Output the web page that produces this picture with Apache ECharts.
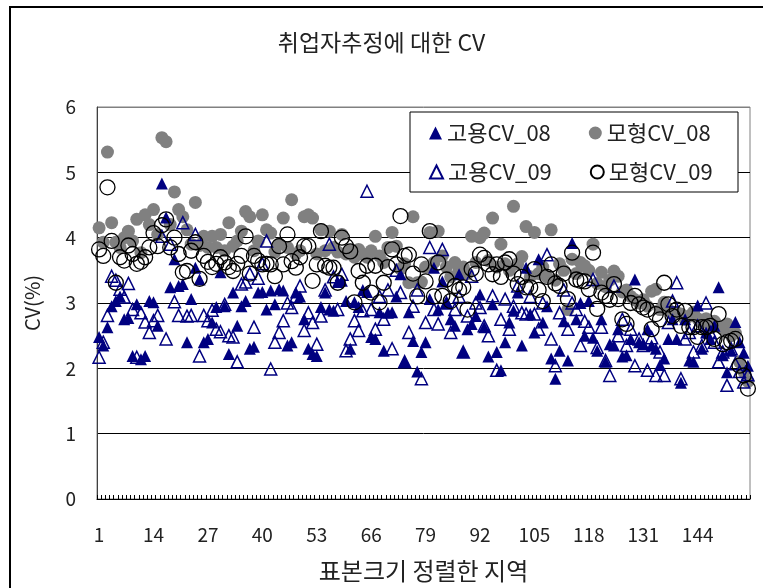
<!DOCTYPE html>
<html>
<head>
<meta charset="utf-8">
<title>취업자추정에 대한 CV</title>
<script src="https://cdn.jsdelivr.net/npm/echarts@6/dist/echarts.min.js"></script>
<style>
    html, body { margin: 0; padding: 0; background: #fff; }
    #chart { width: 763px; height: 588px; }
</style>
</head>
<body>
<div id="chart"></div>
<script>
// 지역 (표본크기 순)
var regionCount = 156;
var categories = [];
for (var k = 1; k <= regionCount; k++) {
    categories.push(String(k));
}
var yTicks = [0, 1, 2, 3, 4, 5, 6];

// 고용CV_08
var emp08 = [
    2.48, 2.35, 2.63, 2.95, 3.03, 3.10, 2.75, 2.77, 2.19, 2.98,
    2.14, 2.19, 3.03, 3.01, 2.65, 4.83, 4.31, 3.24, 3.67, 3.26,
    3.29, 2.40, 3.06, 3.54, 3.36, 2.40, 2.45, 2.70, 2.94, 3.47,
    2.95, 2.22, 3.16, 2.65, 2.95, 3.03, 2.30, 2.33, 3.16, 3.17,
    2.90, 3.19, 2.98, 3.21, 3.19, 2.35, 2.40, 3.16, 3.10, 2.75,
    2.30, 2.22, 2.19, 2.94, 3.16, 2.90, 2.88, 3.32, 3.34, 3.03,
    2.30, 3.01, 2.94, 3.20, 3.17, 2.48, 2.45, 2.86, 2.27, 2.85,
    2.86, 3.10, 3.44, 2.10, 2.86, 2.42, 1.95, 2.25, 2.40, 3.06,
    3.54, 2.90, 3.33, 3.00, 2.75, 2.65, 3.44, 2.25, 2.60, 2.68,
    2.80, 3.13, 2.63, 2.18, 2.98, 2.25, 1.97, 2.40, 2.70, 2.88,
    3.16, 2.35, 3.54, 2.83, 2.55, 3.67, 2.70, 2.95, 2.15, 1.84,
    2.27, 2.72, 2.12, 3.92, 2.75, 3.00, 2.50, 3.03, 2.47, 2.27,
    2.75, 2.10, 2.37, 2.35, 2.60, 2.18, 2.20, 2.45, 3.36, 2.40,
    2.37, 2.60, 2.35, 2.30, 2.05, 2.15, 2.45, 2.75, 2.45, 1.78,
    2.75, 2.12, 2.10, 2.96, 2.30, 2.55, 2.45, 2.65, 3.24, 2.20,
    1.94, 2.27, 2.71, 2.40, 2.24, 2.04
];
// 모형CV_08
var model08 = [
    4.15, 3.93, 5.31, 4.23, 3.93, 3.85, 4.00, 4.10, 3.95, 4.28,
    3.77, 4.35, 4.20, 4.43, 4.05, 5.53, 5.47, 4.20, 4.70, 4.43,
    4.32, 4.12, 3.90, 4.54, 3.88, 4.02, 3.85, 4.02, 3.85, 4.05,
    3.80, 4.23, 3.87, 3.95, 4.10, 4.40, 4.32, 3.80, 3.95, 4.35,
    4.12, 4.07, 3.78, 3.90, 4.30, 3.85, 4.58, 3.75, 3.80, 4.32,
    4.35, 4.30, 3.75, 4.12, 3.80, 4.10, 3.85, 3.78, 4.05, 3.75,
    3.80, 3.70, 3.82, 3.75, 3.70, 3.80, 4.02, 3.72, 3.62, 3.85,
    4.08, 3.87, 3.52, 3.60, 3.31, 4.32, 3.31, 3.32, 3.55, 4.08,
    3.62, 4.10, 3.72, 3.55, 3.40, 3.62, 3.50, 3.55, 3.45, 4.02,
    3.62, 4.00, 4.07, 3.65, 4.30, 3.55, 3.90, 3.60, 3.50, 4.48,
    3.60, 3.71, 4.17, 3.40, 4.08, 3.45, 3.55, 3.40, 4.12, 3.35,
    3.60, 3.50, 2.90, 3.67, 3.45, 3.62, 3.57, 3.50, 3.90, 3.30,
    3.47, 3.25, 3.35, 3.49, 3.41, 3.17, 3.20, 3.10, 3.05, 3.00,
    3.05, 2.95, 3.18, 3.21, 2.90, 3.01, 2.90, 2.86, 2.85, 2.83,
    2.75, 2.80, 2.86, 2.76, 2.70, 2.76, 2.68, 2.72, 2.65, 2.60,
    2.68, 2.50, 2.54, 2.10, 1.95, 1.80
];
// 고용CV_09
var emp09 = [
    2.17, 2.40, 2.81, 3.41, 3.35, 3.21, 3.09, 3.30, 2.90, 2.17,
    2.85, 2.71, 2.55, 2.73, 2.81, 4.02, 2.45, 3.90, 3.02, 2.81,
    4.23, 2.80, 2.81, 4.05, 2.19, 2.81, 2.73, 2.89, 2.60, 2.56,
    2.98, 2.50, 2.48, 2.10, 3.29, 3.32, 3.45, 2.63, 3.38, 3.60,
    3.95, 1.99, 2.40, 2.55, 2.73, 3.00, 2.93, 3.10, 3.26, 2.58,
    2.85, 2.70, 2.37, 2.80, 3.20, 3.90, 3.40, 2.90, 3.44, 2.27,
    2.45, 2.73, 2.58, 2.88, 4.71, 2.90, 2.60, 3.10, 2.75, 3.20,
    2.30, 3.50, 3.16, 2.10, 2.55, 2.95, 3.20, 1.84, 2.70, 3.85,
    2.90, 2.68, 3.82, 3.00, 2.55, 2.90, 3.10, 2.25, 2.80, 3.41,
    3.00, 2.93, 2.65, 2.50, 3.11, 1.97, 2.75, 3.06, 2.60, 2.95,
    3.26, 2.85, 2.83, 3.10, 2.83, 2.60, 3.00, 3.74, 2.45, 2.04,
    2.85, 3.20, 2.60, 3.00, 2.90, 2.35, 2.72, 2.63, 3.36, 2.32,
    2.63, 2.12, 1.89, 3.26, 2.50, 2.75, 2.35, 2.60, 2.04, 2.45,
    2.35, 1.97, 2.47, 1.89, 2.25, 1.89, 2.70, 3.03, 3.31, 1.84,
    2.45, 2.55, 2.25, 2.65, 2.35, 3.00, 2.55, 2.40, 2.10, 2.25,
    1.74, 2.30, 2.07, 1.95, 1.79, 1.90
];
// 모형CV_09
var model09 = [
    3.82, 3.72, 4.77, 3.95, 3.31, 3.70, 3.65, 3.88, 3.75, 3.60,
    3.63, 3.70, 3.85, 4.07, 3.87, 4.19, 4.28, 3.85, 4.00, 3.75,
    3.47, 3.49, 3.80, 3.93, 3.37, 3.72, 3.63, 3.55, 3.60, 3.70,
    3.62, 3.55, 3.49, 3.60, 3.72, 4.02, 3.45, 3.72, 3.65, 3.59,
    3.60, 3.59, 3.41, 3.87, 3.59, 4.05, 3.64, 3.54, 3.70, 3.87,
    3.87, 3.34, 3.59, 4.10, 3.57, 3.54, 3.54, 3.31, 4.00, 3.87,
    3.79, 3.01, 3.49, 3.31, 3.57, 3.16, 3.57, 3.01, 3.31, 3.55,
    3.82, 3.59, 4.33, 3.72, 3.74, 3.45, 3.10, 3.59, 3.33, 4.10,
    3.10, 3.62, 3.11, 3.36, 3.03, 3.26, 3.20, 3.24, 2.90, 3.52,
    3.45, 3.74, 3.69, 3.59, 3.44, 3.59, 3.40, 3.62, 3.67, 3.45,
    3.29, 3.40, 3.24, 3.24, 3.52, 3.20, 3.03, 3.40, 3.59, 3.30,
    3.26, 3.45, 3.06, 3.77, 3.36, 3.34, 3.33, 3.21, 3.77, 2.91,
    3.16, 3.11, 3.05, 3.29, 3.06, 2.75, 2.68, 3.00, 3.11, 2.98,
    2.93, 2.90, 2.60, 2.83, 2.75, 3.31, 2.98, 2.80, 2.90, 2.65,
    2.88, 2.63, 2.63, 2.48, 2.63, 2.63, 2.65, 2.45, 2.83, 2.37,
    2.40, 2.42, 2.45, 2.04, 1.89, 1.69
];

var navy = '#000080';
var font = "'Noto Sans CJK KR', 'Noto Sans', sans-serif";

var chart = echarts.init(document.getElementById('chart'));

var option = {
    backgroundColor: '#fff',
    animation: false,
    textStyle: { fontFamily: font },
    title: {
        text: '취업자추정에 대한 CV',
        left: 'center',
        top: 26,
        textStyle: { fontFamily: font, fontSize: 23, fontWeight: 'normal', color: '#222' }
    },
    legend: [{
        data: ['고용CV_08', '모형CV_08'],
        left: 424,
        top: 117,
        z: 20,
        itemWidth: 13,
        itemHeight: 13,
        itemGap: 38,
        textStyle: { fontFamily: font, fontSize: 22, color: '#222' }
    }, {
        data: ['고용CV_09', '모형CV_09'],
        left: 424,
        top: 156,
        z: 20,
        itemWidth: 13,
        itemHeight: 13,
        itemGap: 38,
        textStyle: { fontFamily: font, fontSize: 22, color: '#222' }
    }],
    grid: {
        left: 97,
        right: 13,
        top: 107,
        bottom: 70,
        show: true,
        borderColor: '#808080',
        borderWidth: 1
    },
    xAxis: {
        type: 'category',
        data: categories,
        boundaryGap: true,
        name: '표본크기 정렬한 지역',
        nameLocation: 'middle',
        nameGap: 60,
        nameTextStyle: { fontFamily: font, fontSize: 24, color: '#222' },
        axisLine: { lineStyle: { color: '#000', width: 1 } },
        axisTick: { show: true, inside: true, length: 4, interval: 0, lineStyle: { color: '#000' } },
        axisLabel: { interval: 12, margin: 26, fontSize: 19, color: '#222', fontFamily: font },
        splitLine: { show: false }
    },
    yAxis: {
        type: 'value',
        min: yTicks[0],
        max: yTicks[yTicks.length - 1],
        interval: 1,
        name: 'CV(%)',
        nameLocation: 'middle',
        nameGap: 55,
        nameTextStyle: { fontFamily: font, fontSize: 20, color: '#222' },
        axisLine: { show: true, lineStyle: { color: '#404040' } },
        axisTick: { show: false },
        axisLabel: { margin: 21, fontSize: 19, color: '#222', fontFamily: font },
        splitLine: { show: true, lineStyle: { color: ['#000', '#000', '#000', '#000', '#000', '#000', '#808080'], width: 1 } }
    },
    series: [{
        name: '모형CV_08',
        type: 'scatter',
        symbol: 'circle',
        symbolSize: 13,
        z: 2,
        itemStyle: { color: '#808080', opacity: 1 },
        data: model08
    }, {
        name: '고용CV_08',
        type: 'scatter',
        symbol: 'triangle',
        symbolSize: 12,
        z: 3,
        itemStyle: { color: navy, opacity: 1 },
        data: emp08
    }, {
        name: '고용CV_09',
        type: 'scatter',
        symbol: 'triangle',
        symbolSize: 12,
        z: 4,
        itemStyle: { color: 'rgba(255,255,255,0)', borderColor: navy, borderWidth: 1.5, opacity: 1 },
        data: emp09
    }, {
        name: '모형CV_09',
        type: 'scatter',
        symbol: 'circle',
        symbolSize: 15,
        z: 5,
        itemStyle: { color: 'rgba(255,255,255,0)', borderColor: '#000', borderWidth: 1.3, opacity: 1 },
        data: model09
    }],
    graphic: [{
        // 바깥 테두리
        type: 'rect',
        shape: { x: 10, y: 7, width: 780, height: 620 },
        style: { fill: null, stroke: '#000', lineWidth: 2 },
        silent: true
    }, {
        // 범례 상자
        type: 'rect',
        z: 10,
        shape: { x: 410, y: 112, width: 328, height: 80 },
        style: { fill: '#fff', stroke: '#000', lineWidth: 1 },
        silent: true
    }]
};
chart.setOption(option);

window.addEventListener('resize', function () {
    chart.resize();
});
</script>
</body>
</html>
